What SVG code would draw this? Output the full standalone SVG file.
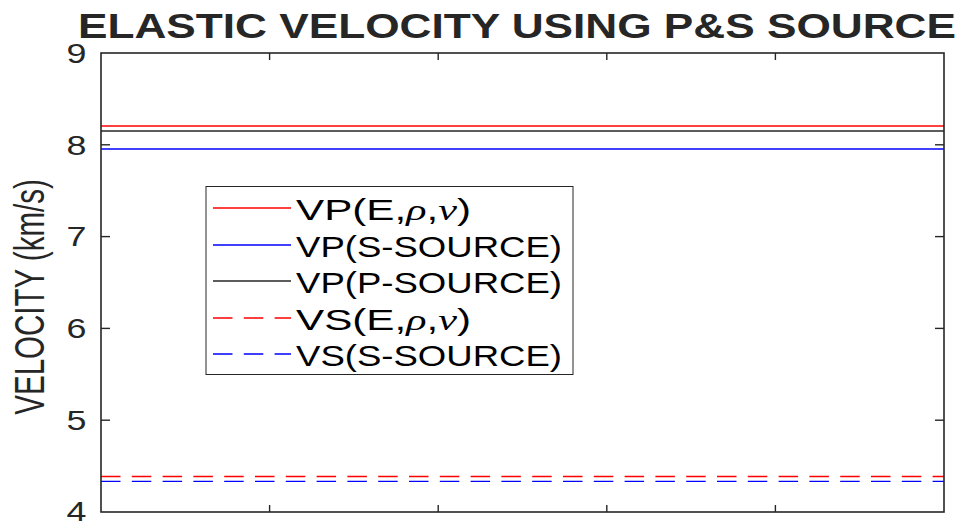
<svg xmlns="http://www.w3.org/2000/svg" width="967" height="522" viewBox="0 0 967 522">
  <style>
    .ax { stroke: #262626; stroke-width: 1.6; fill: none; }
    .tick { stroke: #262626; stroke-width: 1.4; }
    .lbl { font-family: "Liberation Sans", Arial, sans-serif; fill: #262626; }
    .leg { font-family: "Liberation Sans", Arial, sans-serif; fill: #000; font-size: 30px; }
    .greek { font-family: "Liberation Serif", "Times New Roman", serif; font-style: italic; }
    .red { stroke: #ff0000; stroke-width: 1.3; }
    .blue { stroke: #0000ff; stroke-width: 1.3; }
    .blk { stroke: #262626; stroke-width: 1.3; }
    .dash { stroke-dasharray: 19.5 11.3; }
  </style>

  <rect x="0" y="0" width="967" height="522" fill="#ffffff"/>

  <!-- title -->
  <text id="title" x="78" y="38" class="lbl" font-size="35" font-weight="bold" fill="#000" textLength="878" lengthAdjust="spacingAndGlyphs">ELASTIC VELOCITY USING P&amp;S SOURCE</text>

  <!-- data series -->
  <g id="series">
    <line class="red" x1="101" y1="126" x2="944" y2="126"/>
    <line class="blk" x1="101" y1="131" x2="944" y2="131"/>
    <line class="blue" x1="101" y1="149" x2="944" y2="149"/>
    <line class="red dash" x1="101" y1="476.5" x2="944" y2="476.5"/>
    <line class="blue dash" x1="101" y1="481.3" x2="944" y2="481.3"/>
  </g>

  <!-- axes box and ticks -->
  <g id="axes">
    <rect class="ax" x="101" y="53" width="843" height="459"/>
    <g class="tick">
      <!-- x ticks, bottom and top -->
      <line x1="269.6" y1="512" x2="269.6" y2="505"/>
      <line x1="438.2" y1="512" x2="438.2" y2="505"/>
      <line x1="606.8" y1="512" x2="606.8" y2="505"/>
      <line x1="775.4" y1="512" x2="775.4" y2="505"/>
      <line x1="269.6" y1="53" x2="269.6" y2="60"/>
      <line x1="438.2" y1="53" x2="438.2" y2="60"/>
      <line x1="606.8" y1="53" x2="606.8" y2="60"/>
      <line x1="775.4" y1="53" x2="775.4" y2="60"/>
      <!-- y ticks, left and right -->
      <line x1="101" y1="144.8" x2="110" y2="144.8"/>
      <line x1="101" y1="236.6" x2="110" y2="236.6"/>
      <line x1="101" y1="328.4" x2="110" y2="328.4"/>
      <line x1="101" y1="420.2" x2="110" y2="420.2"/>
      <line x1="944" y1="144.8" x2="935" y2="144.8"/>
      <line x1="944" y1="236.6" x2="935" y2="236.6"/>
      <line x1="944" y1="328.4" x2="935" y2="328.4"/>
      <line x1="944" y1="420.2" x2="935" y2="420.2"/>
    </g>
    <!-- y tick labels -->
    <g class="lbl" font-size="27" text-anchor="end">
      <text transform="translate(86.5,62.7) scale(1.33,1)">9</text>
      <text transform="translate(86.5,154.5) scale(1.33,1)">8</text>
      <text transform="translate(86.5,246.3) scale(1.33,1)">7</text>
      <text transform="translate(86.5,338.1) scale(1.33,1)">6</text>
      <text transform="translate(86.5,429.9) scale(1.33,1)">5</text>
      <text transform="translate(86.5,521) scale(1.33,1)">4</text>
    </g>
    <!-- y axis label -->
    <text id="ylabel" class="lbl" font-size="29.5" text-anchor="middle" transform="translate(44,297) scale(1.47,1) rotate(-90)">VELOCITY (km/s)</text>
  </g>

  <!-- legend -->
  <g id="legend">
    <rect x="206" y="186.5" width="367" height="188" fill="#ffffff" stroke="#262626" stroke-width="1"/>
    <line class="red" x1="213" y1="208" x2="291" y2="208"/>
    <line class="blue" x1="213" y1="245" x2="291" y2="245"/>
    <line class="blk" x1="213" y1="281" x2="291" y2="281"/>
    <line class="red dash" x1="213" y1="318" x2="291" y2="318"/>
    <line class="blue dash" x1="213" y1="354" x2="291" y2="354"/>
    <text class="leg" x="296" y="220" textLength="175" lengthAdjust="spacingAndGlyphs">VP(E,<tspan class="greek">ρ</tspan>,<tspan class="greek">ν</tspan>)</text>
    <text class="leg" x="296" y="256.5" textLength="266" lengthAdjust="spacingAndGlyphs">VP(S-SOURCE)</text>
    <text class="leg" x="296" y="293" textLength="266" lengthAdjust="spacingAndGlyphs">VP(P-SOURCE)</text>
    <text class="leg" x="296" y="329.5" textLength="175" lengthAdjust="spacingAndGlyphs">VS(E,<tspan class="greek">ρ</tspan>,<tspan class="greek">ν</tspan>)</text>
    <text class="leg" x="296" y="366" textLength="266" lengthAdjust="spacingAndGlyphs">VS(S-SOURCE)</text>
  </g>
</svg>
